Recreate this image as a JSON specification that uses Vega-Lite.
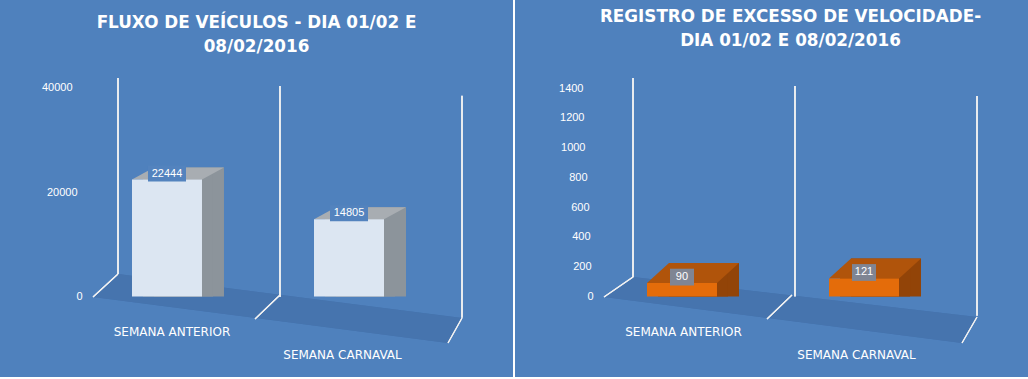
{
  "$schema": "https://vega.github.io/schema/vega-lite/v6.json",
  "background": "white",
  "padding": 0,
  "autosize": {"type": "pad"},
  "spacing": 2,
  "config": {
    "view": {"fill": "#4F81BD", "stroke": null},
    "font": "Liberation Sans",
    "title": {"color": "white", "font": "DejaVu Sans", "fontWeight": "bold", "fontSize": 16.8, "lineHeight": 24, "anchor": "middle"}
  },
  "datasets": {
    "fluxo": [
      {"semana": "SEMANA ANTERIOR", "veiculos": 22444},
      {"semana": "SEMANA CARNAVAL", "veiculos": 14805}
    ],
    "excesso": [
      {"semana": "SEMANA ANTERIOR", "registros": 90},
      {"semana": "SEMANA CARNAVAL", "registros": 121}
    ]
  },
  "hconcat": [
    {
      "width": 513,
      "height": 377,
      "title": {"text": ["FLUXO DE VEÍCULOS - DIA 01/02 E", "08/02/2016"], "offset": -56},
      "data": {"name": "fluxo"},
      "encoding": {
        "x": {
          "field": "semana",
          "type": "nominal",
          "sort": null,
          "scale": {"range": [118, 462], "paddingInner": 0.11, "paddingOuter": 0},
          "axis": {
            "title": null, "orient": "bottom", "offset": -46, "domain": false, "ticks": false, "tickSize": 0, "grid": false,
            "labelAngle": 0, "labelBaseline": "middle", "labelColor": "white",
            "labelFont": "DejaVu Sans", "labelFontSize": 12,
            "labelOffset": {"condition": {"test": "datum.value === 'SEMANA CARNAVAL'", "value": -38.5}, "value": -27},
            "labelPadding": {"condition": {"test": "datum.value === 'SEMANA CARNAVAL'", "value": 23}, "value": 0}
          }
        },
        "y": {
          "field": "veiculos",
          "type": "quantitative",
          "scale": {"domain": [-15444, 56882], "nice": false, "zero": false},
          "axis": {
            "title": null, "orient": "left", "offset": -82, "domain": false, "ticks": false, "tickSize": 0, "grid": false,
            "values": [0, 20000, 40000], "format": "d", "labelColor": "white", "labelFontSize": 11,
            "labelPadding": {"condition": [
              {"test": "datum.value >= 40000", "value": 10},
              {"test": "datum.value >= 20000", "value": 5}
            ], "value": 0}
          }
        }
      },
      "layer": [
        {
          "mark": {"type": "point", "filled": true, "opacity": 1, "color": "#4674AE", "shape": "M-25,0.5L0,-22.5L344,21.5L330,46.5Z", "size": 4},
          "encoding": {"x": {"datum": "SEMANA ANTERIOR", "bandPosition": 0}, "y": {"datum": 0}}
        },
        {
          "mark": {"type": "point", "filled": false, "opacity": 1, "color": "#F2F2F2", "strokeWidth": 1.2, "shape": "M-25,0.5L0,-22.5M137,22.5L162,-1.5M330,46.5L344,21.5", "size": 4},
          "encoding": {"x": {"datum": "SEMANA ANTERIOR", "bandPosition": 0}, "y": {"datum": 0}}
        },
        {
          "mark": {"type": "rule", "color": "#F2F2F2", "strokeWidth": 1.5},
          "encoding": {"x": {"datum": "SEMANA ANTERIOR", "bandPosition": 0}, "y": {"datum": 41900}, "y2": {"datum": 4300}}
        },
        {
          "mark": {"type": "rule", "color": "#F2F2F2", "strokeWidth": 1.5},
          "encoding": {"x": {"datum": "SEMANA ANTERIOR", "bandPosition": 1}, "y": {"datum": 40400}, "y2": {"datum": -100}}
        },
        {
          "mark": {"type": "rule", "color": "#F2F2F2", "strokeWidth": 1.5},
          "encoding": {"x": {"datum": "SEMANA CARNAVAL", "bandPosition": 1}, "y": {"datum": 38500}, "y2": {"datum": -4100}}
        },
        {
          "mark": {"type": "bar", "width": 70, "color": "#8C949B", "xOffset": -10, "yOffset": -12},
          "encoding": {"y2": {"datum": 0}}
        },
        {
          "mark": {"type": "bar", "width": 70, "color": "#8C949B", "xOffset": -21, "yOffset": -6},
          "encoding": {"y2": {"datum": 0}}
        },
        {
          "mark": {"type": "point", "filled": true, "opacity": 1, "color": "#A8ADB2", "shape": "M-35,0L35,0L57,-12L-13,-12Z", "size": 4, "xOffset": -32},
          "encoding": {}
        },
        {
          "mark": {"type": "bar", "width": 70, "color": "#DCE6F2", "xOffset": -32},
          "encoding": {"y2": {"datum": 0}}
        },
        {
          "mark": {"type": "point", "filled": true, "opacity": 1, "color": "#5383BE", "shape": "M-1,-0.42H1V0.42H-1Z", "size": 1444, "xOffset": -32, "yOffset": -6},
          "encoding": {}
        },
        {
          "mark": {"type": "text", "color": "white", "fontSize": 11, "baseline": "middle", "xOffset": -32, "yOffset": -6},
          "encoding": {"text": {"field": "veiculos", "type": "quantitative", "format": "d"}}
        }
      ]
    },
    {
      "width": 513,
      "height": 377,
      "title": {"text": ["REGISTRO DE EXCESSO DE VELOCIDADE-", "DIA 01/02 E 08/02/2016"], "offset": -50, "dx": 19},
      "data": {"name": "excesso"},
      "encoding": {
        "x": {
          "field": "semana",
          "type": "nominal",
          "sort": null,
          "scale": {"range": [118, 462], "paddingInner": 0.11, "paddingOuter": 0},
          "axis": {
            "title": null, "orient": "bottom", "offset": -46, "domain": false, "ticks": false, "tickSize": 0, "grid": false,
            "labelAngle": 0, "labelBaseline": "middle", "labelColor": "white",
            "labelFont": "DejaVu Sans", "labelFontSize": 12,
            "labelOffset": {"condition": {"test": "datum.value === 'SEMANA CARNAVAL'", "value": -39.5}, "value": -30.5},
            "labelPadding": {"condition": {"test": "datum.value === 'SEMANA CARNAVAL'", "value": 23}, "value": 0}
          }
        },
        "y": {
          "field": "registros",
          "type": "quantitative",
          "scale": {"domain": [-540.5, 1990.9], "nice": false, "zero": false},
          "axis": {
            "title": null, "orient": "left", "offset": -78, "domain": false, "ticks": false, "tickSize": 0, "grid": false,
            "values": [0, 200, 400, 600, 800, 1000, 1200, 1400], "format": "d", "labelColor": "white", "labelFontSize": 11,
            "labelPadding": {"condition": [
              {"test": "datum.value >= 1400", "value": 10},
              {"test": "datum.value >= 1200", "value": 9},
              {"test": "datum.value >= 1000", "value": 8},
              {"test": "datum.value >= 800", "value": 6},
              {"test": "datum.value >= 600", "value": 4},
              {"test": "datum.value >= 400", "value": 3},
              {"test": "datum.value >= 200", "value": 2}
            ], "value": 0}
          }
        }
      },
      "layer": [
        {
          "mark": {"type": "point", "filled": true, "opacity": 1, "color": "#4674AE", "shape": "M-29,0.5L0,-19.5L344,20.5L329,46.5Z", "size": 4},
          "encoding": {"x": {"datum": "SEMANA ANTERIOR", "bandPosition": 0}, "y": {"datum": 0}}
        },
        {
          "mark": {"type": "point", "filled": false, "opacity": 1, "color": "#F2F2F2", "strokeWidth": 1.2, "shape": "M-29,0.5L0,-19.5M134,22.5L159,-1.5M329,46.5L344,20.5", "size": 4},
          "encoding": {"x": {"datum": "SEMANA ANTERIOR", "bandPosition": 0}, "y": {"datum": 0}}
        },
        {
          "mark": {"type": "rule", "color": "#F2F2F2", "strokeWidth": 1.5},
          "encoding": {"x": {"datum": "SEMANA ANTERIOR", "bandPosition": 0}, "y": {"datum": 1467}, "y2": {"datum": 130}}
        },
        {
          "mark": {"type": "rule", "color": "#F2F2F2", "strokeWidth": 1.5},
          "encoding": {"x": {"datum": "SEMANA ANTERIOR", "bandPosition": 1}, "y": {"datum": 1413}, "y2": {"datum": 0}}
        },
        {
          "mark": {"type": "rule", "color": "#F2F2F2", "strokeWidth": 1.5},
          "encoding": {"x": {"datum": "SEMANA CARNAVAL", "bandPosition": 1}, "y": {"datum": 1346}, "y2": {"datum": -130}}
        },
        {
          "mark": {"type": "bar", "width": 70, "color": "#924408", "xOffset": -10, "yOffset": -20},
          "encoding": {"y2": {"datum": 0}}
        },
        {
          "mark": {"type": "bar", "width": 70, "color": "#924408", "xOffset": -21, "yOffset": -10},
          "encoding": {"y2": {"datum": 0}}
        },
        {
          "mark": {"type": "point", "filled": true, "opacity": 1, "color": "#B0540B", "shape": "M-35,0L35,0L57,-20L-13,-20Z", "size": 4, "xOffset": -32},
          "encoding": {}
        },
        {
          "mark": {"type": "bar", "width": 70, "color": "#E46C0A", "xOffset": -32},
          "encoding": {"y2": {"datum": 0}}
        },
        {
          "mark": {"type": "point", "filled": true, "opacity": 1, "color": "#7F8593", "shape": "M-1,-0.7H1V0.7H-1Z", "size": 576, "xOffset": -32, "yOffset": -6},
          "encoding": {}
        },
        {
          "mark": {"type": "text", "color": "white", "fontSize": 11, "baseline": "middle", "xOffset": -32, "yOffset": -6},
          "encoding": {"text": {"field": "registros", "type": "quantitative", "format": "d"}}
        }
      ]
    }
  ]
}
